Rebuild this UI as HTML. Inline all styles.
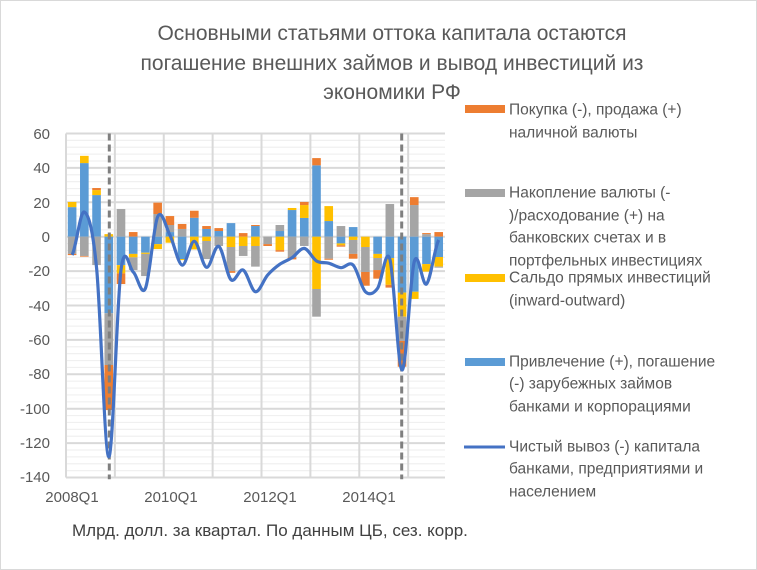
<!DOCTYPE html>
<html><head><meta charset="utf-8"><style>
html,body{margin:0;padding:0;background:#fff;}
svg{display:block;font-family:"Liberation Sans",sans-serif;}
</style></head><body>
<svg width="757" height="570" viewBox="0 0 757 570" xmlns="http://www.w3.org/2000/svg">
<rect x="0.5" y="0.5" width="756" height="569" fill="#fff" stroke="#d9d9d9"/>
<g transform="translate(0,236.7) scale(1,-1.72)">
<g stroke="#f0f0f0" stroke-width="1.2" vector-effect="non-scaling-stroke">
<path vector-effect="non-scaling-stroke" d="M66,56H445M66,52H445M66,48H445M66,44H445M66,36H445M66,32H445M66,28H445M66,24H445M66,16H445M66,12H445M66,8H445M66,4H445M66,-4H445M66,-8H445M66,-12H445M66,-16H445M66,-24H445M66,-28H445M66,-32H445M66,-36H445M66,-44H445M66,-48H445M66,-52H445M66,-56H445M66,-64H445M66,-68H445M66,-72H445M66,-76H445M66,-84H445M66,-88H445M66,-92H445M66,-96H445M66,-104H445M66,-108H445M66,-112H445M66,-116H445M66,-124H445M66,-128H445M66,-132H445M66,-136H445"/>
</g>
<path stroke="#d9d9d9" stroke-width="2" vector-effect="non-scaling-stroke" d="M66,60H445M66,40H445M66,20H445M66,0H445M66,-20H445M66,-40H445M66,-60H445M66,-80H445M66,-100H445M66,-120H445M66,-140H445M66,60V-140M114.88,60V-140M163.76,60V-140M212.64,60V-140M261.52,60V-140M310.4,60V-140M359.28,60V-140M408.16,60V-140"/>
<g>
<rect x="67.8" width="8.62" y="0" height="17.2" fill="#5B9BD5"/><rect x="67.8" width="8.62" y="17.2" height="3" fill="#FFC000"/><rect x="67.8" width="8.62" y="-10" height="10" fill="#A5A5A5"/><rect x="67.8" width="8.62" y="-10.7" height="0.7" fill="#ED7D31"/>
<rect x="80.02" width="8.62" y="0" height="42.8" fill="#5B9BD5"/><rect x="80.02" width="8.62" y="42.8" height="4.2" fill="#FFC000"/><rect x="80.02" width="8.62" y="-11.2" height="11.2" fill="#A5A5A5"/><rect x="80.02" width="8.62" y="-11.6" height="0.4" fill="#ED7D31"/>
<rect x="92.24" width="8.62" y="0" height="24.2" fill="#5B9BD5"/><rect x="92.24" width="8.62" y="24.2" height="2.9" fill="#FFC000"/><rect x="92.24" width="8.62" y="27.1" height="1.2" fill="#ED7D31"/><rect x="92.24" width="8.62" y="-16.5" height="16.5" fill="#A5A5A5"/>
<rect x="104.46" width="8.62" y="0" height="1.5" fill="#FFC000"/><rect x="104.46" width="8.62" y="-44.5" height="44.5" fill="#5B9BD5"/><rect x="104.46" width="8.62" y="-74.6" height="30.1" fill="#A5A5A5"/><rect x="104.46" width="8.62" y="-100.8" height="26.2" fill="#ED7D31"/>
<rect x="116.68" width="8.62" y="0" height="16.1" fill="#A5A5A5"/><rect x="116.68" width="8.62" y="-16.5" height="16.5" fill="#5B9BD5"/><rect x="116.68" width="8.62" y="-21.3" height="4.8" fill="#FFC000"/><rect x="116.68" width="8.62" y="-27.5" height="6.2" fill="#ED7D31"/>
<rect x="128.9" width="8.62" y="0" height="2.7" fill="#ED7D31"/><rect x="128.9" width="8.62" y="-10" height="10" fill="#5B9BD5"/><rect x="128.9" width="8.62" y="-12" height="2" fill="#FFC000"/><rect x="128.9" width="8.62" y="-19.4" height="7.4" fill="#A5A5A5"/>
<rect x="141.12" width="8.62" y="-9.3" height="9.3" fill="#5B9BD5"/><rect x="141.12" width="8.62" y="-10" height="0.7" fill="#FFC000"/><rect x="141.12" width="8.62" y="-22.9" height="12.9" fill="#A5A5A5"/>
<rect x="153.34" width="8.62" y="0" height="13.2" fill="#A5A5A5"/><rect x="153.34" width="8.62" y="13.2" height="6.6" fill="#ED7D31"/><rect x="153.34" width="8.62" y="-4.3" height="4.3" fill="#5B9BD5"/><rect x="153.34" width="8.62" y="-7.2" height="2.9" fill="#FFC000"/>
<rect x="165.56" width="8.62" y="0" height="2.7" fill="#5B9BD5"/><rect x="165.56" width="8.62" y="2.7" height="4.1" fill="#A5A5A5"/><rect x="165.56" width="8.62" y="6.8" height="5.2" fill="#ED7D31"/><rect x="165.56" width="8.62" y="-3.5" height="3.5" fill="#FFC000"/>
<rect x="177.78" width="8.62" y="0" height="4.5" fill="#A5A5A5"/><rect x="177.78" width="8.62" y="4.5" height="2.9" fill="#ED7D31"/><rect x="177.78" width="8.62" y="-13" height="13" fill="#5B9BD5"/><rect x="177.78" width="8.62" y="-13.6" height="0.6" fill="#FFC000"/>
<rect x="190" width="8.62" y="0" height="11" fill="#5B9BD5"/><rect x="190" width="8.62" y="11" height="4.1" fill="#ED7D31"/><rect x="190" width="8.62" y="-7.4" height="7.4" fill="#FFC000"/>
<rect x="202.22" width="8.62" y="0" height="4.5" fill="#5B9BD5"/><rect x="202.22" width="8.62" y="4.5" height="1.7" fill="#ED7D31"/><rect x="202.22" width="8.62" y="-2.5" height="2.5" fill="#FFC000"/><rect x="202.22" width="8.62" y="-13" height="10.5" fill="#A5A5A5"/>
<rect x="214.44" width="8.62" y="0" height="3.3" fill="#5B9BD5"/><rect x="214.44" width="8.62" y="3.3" height="1.7" fill="#ED7D31"/><rect x="214.44" width="8.62" y="-5.4" height="5.4" fill="#A5A5A5"/>
<rect x="226.66" width="8.62" y="0" height="7.9" fill="#5B9BD5"/><rect x="226.66" width="8.62" y="-6" height="6" fill="#FFC000"/><rect x="226.66" width="8.62" y="-20" height="14" fill="#A5A5A5"/><rect x="226.66" width="8.62" y="-21" height="1" fill="#ED7D31"/>
<rect x="238.88" width="8.62" y="0" height="2.1" fill="#ED7D31"/><rect x="238.88" width="8.62" y="-5.4" height="5.4" fill="#FFC000"/><rect x="238.88" width="8.62" y="-11.2" height="5.8" fill="#A5A5A5"/>
<rect x="251.1" width="8.62" y="0" height="6.2" fill="#5B9BD5"/><rect x="251.1" width="8.62" y="6.2" height="0.6" fill="#ED7D31"/><rect x="251.1" width="8.62" y="-5.4" height="5.4" fill="#FFC000"/><rect x="251.1" width="8.62" y="-17.4" height="12" fill="#A5A5A5"/>
<rect x="263.32" width="8.62" y="-4.3" height="4.3" fill="#A5A5A5"/><rect x="263.32" width="8.62" y="-5.4" height="1.1" fill="#ED7D31"/>
<rect x="275.54" width="8.62" y="0" height="3.3" fill="#5B9BD5"/><rect x="275.54" width="8.62" y="3.3" height="3.5" fill="#A5A5A5"/><rect x="275.54" width="8.62" y="-7.8" height="7.8" fill="#FFC000"/><rect x="275.54" width="8.62" y="-8.7" height="0.9" fill="#ED7D31"/>
<rect x="287.76" width="8.62" y="0" height="15.5" fill="#5B9BD5"/><rect x="287.76" width="8.62" y="15.5" height="1.2" fill="#FFC000"/><rect x="287.76" width="8.62" y="-12" height="12" fill="#A5A5A5"/><rect x="287.76" width="8.62" y="-13.2" height="1.2" fill="#ED7D31"/>
<rect x="299.98" width="8.62" y="0" height="10.9" fill="#5B9BD5"/><rect x="299.98" width="8.62" y="10.9" height="7.5" fill="#FFC000"/><rect x="299.98" width="8.62" y="18.4" height="1.8" fill="#ED7D31"/><rect x="299.98" width="8.62" y="-5.4" height="5.4" fill="#A5A5A5"/>
<rect x="312.2" width="8.62" y="0" height="41.5" fill="#5B9BD5"/><rect x="312.2" width="8.62" y="41.5" height="4.2" fill="#ED7D31"/><rect x="312.2" width="8.62" y="-30.4" height="30.4" fill="#FFC000"/><rect x="312.2" width="8.62" y="-46.5" height="16.1" fill="#A5A5A5"/>
<rect x="324.42" width="8.62" y="0" height="9.1" fill="#5B9BD5"/><rect x="324.42" width="8.62" y="9.1" height="8.7" fill="#FFC000"/><rect x="324.42" width="8.62" y="-12.8" height="12.8" fill="#A5A5A5"/><rect x="324.42" width="8.62" y="-13.4" height="0.6" fill="#ED7D31"/>
<rect x="336.64" width="8.62" y="0" height="6.2" fill="#A5A5A5"/><rect x="336.64" width="8.62" y="-3.9" height="3.9" fill="#5B9BD5"/><rect x="336.64" width="8.62" y="-5" height="1.1" fill="#FFC000"/><rect x="336.64" width="8.62" y="-5.8" height="0.8" fill="#ED7D31"/>
<rect x="348.86" width="8.62" y="0" height="5.6" fill="#5B9BD5"/><rect x="348.86" width="8.62" y="-1.9" height="1.9" fill="#FFC000"/><rect x="348.86" width="8.62" y="-10" height="8.1" fill="#A5A5A5"/><rect x="348.86" width="8.62" y="-12.8" height="2.8" fill="#ED7D31"/>
<rect x="361.08" width="8.62" y="-6" height="6" fill="#FFC000"/><rect x="361.08" width="8.62" y="-20.5" height="14.5" fill="#A5A5A5"/><rect x="361.08" width="8.62" y="-28.5" height="8" fill="#ED7D31"/>
<rect x="373.3" width="8.62" y="-10" height="10" fill="#5B9BD5"/><rect x="373.3" width="8.62" y="-12.4" height="2.4" fill="#FFC000"/><rect x="373.3" width="8.62" y="-19.4" height="7" fill="#A5A5A5"/><rect x="373.3" width="8.62" y="-24.4" height="5" fill="#ED7D31"/>
<rect x="385.52" width="8.62" y="0" height="19" fill="#A5A5A5"/><rect x="385.52" width="8.62" y="-12.4" height="12.4" fill="#5B9BD5"/><rect x="385.52" width="8.62" y="-28" height="15.6" fill="#FFC000"/><rect x="385.52" width="8.62" y="-29.6" height="1.6" fill="#ED7D31"/>
<rect x="397.74" width="8.62" y="-32.5" height="32.5" fill="#5B9BD5"/><rect x="397.74" width="8.62" y="-46.5" height="14" fill="#FFC000"/><rect x="397.74" width="8.62" y="-60.6" height="14.1" fill="#A5A5A5"/><rect x="397.74" width="8.62" y="-75.6" height="15" fill="#ED7D31"/>
<rect x="409.96" width="8.62" y="0" height="18.4" fill="#A5A5A5"/><rect x="409.96" width="8.62" y="18.4" height="4.6" fill="#ED7D31"/><rect x="409.96" width="8.62" y="-32" height="32" fill="#5B9BD5"/><rect x="409.96" width="8.62" y="-36.2" height="4.2" fill="#FFC000"/>
<rect x="422.18" width="8.62" y="0" height="1.5" fill="#A5A5A5"/><rect x="422.18" width="8.62" y="1.5" height="0.6" fill="#ED7D31"/><rect x="422.18" width="8.62" y="-15.9" height="15.9" fill="#5B9BD5"/><rect x="422.18" width="8.62" y="-20.3" height="4.4" fill="#FFC000"/>
<rect x="434.4" width="8.62" y="0" height="2.7" fill="#ED7D31"/><rect x="434.4" width="8.62" y="-11.8" height="11.8" fill="#5B9BD5"/><rect x="434.4" width="8.62" y="-17.4" height="5.6" fill="#FFC000"/><rect x="434.4" width="8.62" y="-18" height="0.6" fill="#A5A5A5"/>
</g>
<path stroke="#7f7f7f" stroke-width="3" stroke-dasharray="7,4" vector-effect="non-scaling-stroke" d="M109.3,60V-141M401.7,60V-141"/>
<path fill="none" stroke="#4472C4" stroke-width="3.2" stroke-linejoin="round" vector-effect="non-scaling-stroke" d="M72.11,-10.6 C76.18,-6.45 80.26,15.53 84.33,14.3 S92.48,5.72 96.55,-18 S104.7,-127.77 108.77,-128 S116.92,-37.32 120.99,-19.4 S129.14,-18.73 133.21,-20.5 S141.36,-35.35 145.43,-30 S153.58,6.43 157.65,11.6 S165.8,5.68 169.87,1 S178.02,-15.88 182.09,-16.5 S190.24,-2.48 194.31,-2.7 S202.46,-17.32 206.53,-17.8 S214.68,-4.4 218.75,-5.6 S226.9,-22.7 230.97,-25 S239.12,-18.23 243.19,-19.4 S251.34,-31.52 255.41,-32 S263.56,-24.97 267.63,-22.3 S275.78,-17.68 279.85,-16 S288,-13.73 292.07,-12.2 S300.22,-6.48 304.29,-6.8 S312.44,-12.67 316.51,-14.1 S324.66,-14.75 328.73,-15.4 S336.88,-17.82 340.95,-18 S349.1,-14.17 353.17,-16.5 S361.32,-29.75 365.39,-32 S373.54,-33.17 377.61,-30 S385.76,-5.08 389.83,-13 S397.98,-77.25 402.05,-77.5 S410.2,-22.83 414.27,-14.5 S422.42,-29.6 426.49,-27.5 S434.64,-6.17 438.71,-1.9"/>
</g>
<g fill="#595959" font-size="21" text-anchor="middle">
<text x="392" y="40">Основными статьями оттока капитала остаются</text>
<text x="392" y="70">погашение внешних займов и вывод инвестиций из</text>
<text x="392" y="99">экономики РФ</text>
</g>
<g fill="#595959" font-size="15" text-anchor="end">
<text x="50" y="139">60</text><text x="50" y="173">40</text><text x="50" y="208">20</text>
<text x="50" y="242">0</text><text x="50" y="276">-20</text><text x="50" y="311">-40</text>
<text x="50" y="345">-60</text><text x="50" y="379">-80</text><text x="50" y="414">-100</text>
<text x="50" y="448">-120</text><text x="50" y="482">-140</text>
</g>
<g fill="#595959" font-size="15" text-anchor="middle">
<text x="72" y="502">2008Q1</text><text x="171" y="502">2010Q1</text>
<text x="270" y="502">2012Q1</text><text x="369" y="502">2014Q1</text>
</g>
<g fill="#595959" font-size="15.5" dominant-baseline="central">
<rect x="465" y="105" width="40" height="8" fill="#ED7D31"/>
<text x="509" y="110">Покупка (-), продажа (+)</text>
<text x="509" y="133">наличной валюты</text>
<rect x="465" y="189" width="40" height="8" fill="#A5A5A5"/>
<text x="509" y="193">Накопление валюты (-</text>
<text x="509" y="216">)/расходование (+) на</text>
<text x="509" y="238">банковских счетах и в</text>
<text x="509" y="261">портфельных инвестициях</text>
<rect x="465" y="274" width="40" height="8" fill="#FFC000"/>
<text x="509" y="278">Сальдо прямых инвестиций</text>
<text x="509" y="301">(inward-outward)</text>
<rect x="465" y="358" width="40" height="8" fill="#5B9BD5"/>
<text x="509" y="362">Привлечение (+), погашение</text>
<text x="509" y="384">(-) зарубежных займов</text>
<text x="509" y="407">банками и корпорациями</text>
<line x1="464" y1="447" x2="505" y2="447" stroke="#4472C4" stroke-width="3"/>
<text x="509" y="447">Чистый вывоз (-) капитала</text>
<text x="509" y="469">банками, предприятиями и</text>
<text x="509" y="492">населением</text>
</g>
<text x="72" y="536" fill="#404040" font-size="17">Млрд. долл. за квартал. По данным ЦБ, сез. корр.</text>
</svg>
</body></html>
